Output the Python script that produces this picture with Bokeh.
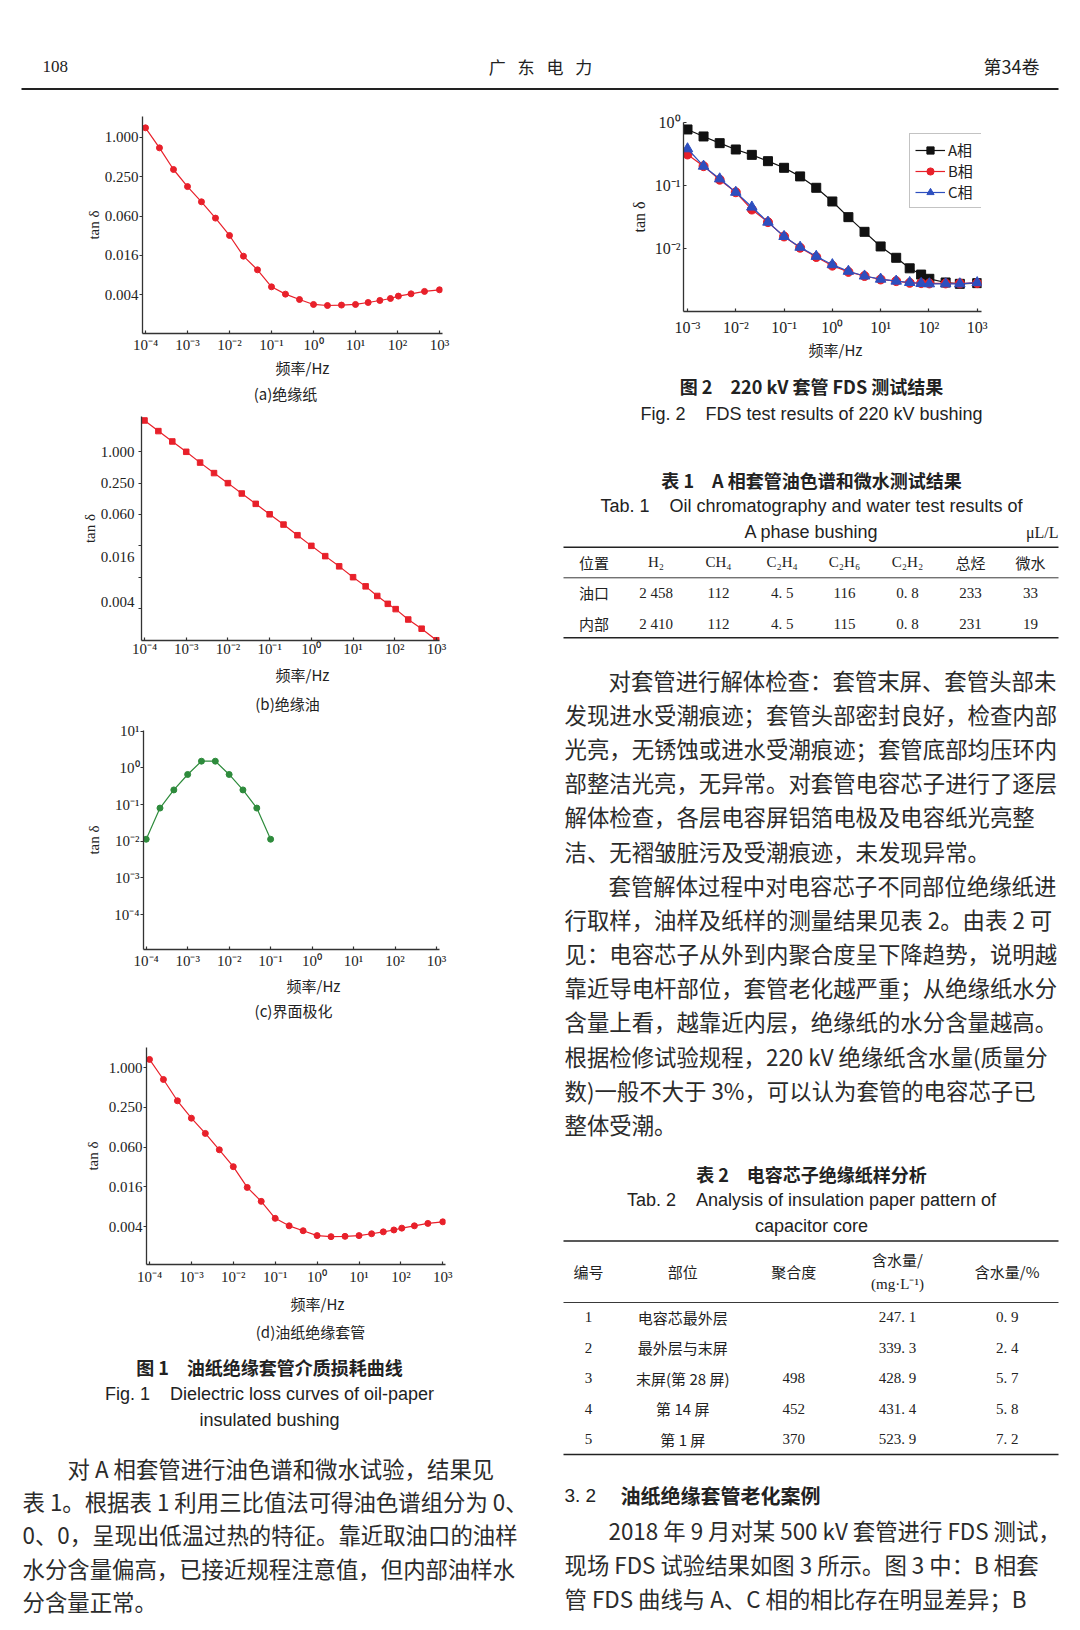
import math
from bokeh.plotting import figure
from bokeh.models import (Range1d, FixedTicker, CustomJSTickFormatter, ColumnDataSource,
                          Legend, LegendItem)
from bokeh.layouts import column, row
from bokeh.embed import file_html
from bokeh.resources import INLINE
from bokeh.core.properties import value

# ---------------------------------------------------------------- data
freq = [1e-4, 2.15e-4, 4.64e-4, 1e-3, 2.15e-3, 4.64e-3, 0.01, 0.0215, 0.0464, 0.1, 0.215, 0.464,
        1.0, 2.15, 4.64, 10.0, 20.0, 38.0, 68.0, 105.0, 210.0, 440.0, 1000.0]
tan_paper = [1.39, 0.687, 0.321, 0.176, 0.103, 0.058, 0.0315, 0.0152, 0.0094, 0.00517, 0.0040,
             0.00331, 0.00278, 0.00268, 0.00272, 0.00278, 0.00298, 0.0032, 0.00343, 0.00373,
             0.00404, 0.0044, 0.00466]
tan_oil = [4.0, 2.5, 1.58, 1.0, 0.62, 0.39, 0.25, 0.158, 0.1, 0.063, 0.04, 0.025, 0.0156, 0.0099,
           0.0063, 0.0039, 0.0026, 0.0017, 0.0012, 0.00095, 0.0006, 0.0004, 0.00024]
freq_pol = [1e-4, 2.15e-4, 4.64e-4, 1e-3, 2.15e-3, 4.64e-3, 0.01, 0.0215, 0.0464, 0.1]
tan_pol = [0.0113, 0.08, 0.25, 0.66, 1.52, 1.52, 0.66, 0.25, 0.08, 0.0113]
tan_bushing = [1.34, 0.665, 0.316, 0.172, 0.101, 0.057, 0.0316, 0.0153, 0.0094, 0.0052, 0.0040,
               0.00337, 0.00284, 0.00274, 0.00277, 0.00284, 0.00303, 0.00324, 0.00346, 0.00369,
               0.0040, 0.00435, 0.0046]

freq_fig2 = [1e-3, 2.15e-3, 4.64e-3, 0.01, 0.0215, 0.0464, 0.1, 0.215, 0.464, 1.0, 2.15, 4.64,
             10.0, 21.0, 40.0, 69.0, 102.0, 222.0, 437.0, 1000.0]
tan_A = [0.784, 0.607, 0.475, 0.377, 0.31, 0.246, 0.193, 0.141, 0.093, 0.0564, 0.0318, 0.0186,
         0.0109, 0.0072, 0.0049, 0.0039, 0.00334, 0.00292, 0.00278, 0.00285]
tan_B = [0.314, 0.205, 0.125, 0.079, 0.042, 0.0265, 0.0157, 0.0104, 0.0074, 0.0054, 0.0043,
         0.0037, 0.00326, 0.00307, 0.00288, 0.00285, 0.00282, 0.00282, 0.00282, 0.00285]
tan_C = [0.387, 0.205, 0.129, 0.079, 0.046, 0.0265, 0.0157, 0.0106, 0.0076, 0.0056, 0.0044,
         0.0037, 0.0033, 0.00307, 0.00292, 0.00282, 0.00278, 0.00278, 0.00278, 0.0029]
phase_names = ["A相", "B相", "C相"]

x_ticks_fig1 = [1e-4, 1e-3, 1e-2, 1e-1, 1.0, 10.0, 100.0, 1000.0]
x_labels_fig1 = ["10⁻⁴", "10⁻³", "10⁻²", "10⁻¹", "10⁰", "10¹", "10²", "10³"]
y_ticks_quarter = [1.0, 0.25, 0.0625, 0.015625, 0.00390625]
y_labels_quarter = ["1.000", "0.250", "0.060", "0.016", "0.004"]
# chart (b): tick marks and printed labels do not coincide in the original
y_marks_oil = [1.0, 0.25, 0.0625, 0.015625, 0.00390625, 0.0009765625]
y_label_pos_oil = [1.0, 0.25, 0.0625, 0.0094, 0.00128]
y_labels_oil = ["1.000", "0.250", "0.060", "0.016", "0.004"]
y_ticks_pol = [10.0, 1.0, 0.1, 0.01, 0.001, 0.0001]
y_labels_pol = ["10¹", "10⁰", "10⁻¹", "10⁻²", "10⁻³", "10⁻⁴"]
x_ticks_fig2 = [1e-3, 1e-2, 1e-1, 1.0, 10.0, 100.0, 1000.0]
x_labels_fig2 = ["10⁻³", "10⁻²", "10⁻¹", "10⁰", "10¹", "10²", "10³"]
y_ticks_fig2 = [1.0, 0.1, 0.01, 0.001]
y_labels_fig2 = ["10⁰", "10⁻¹", "10⁻²", "10⁻³"]

NB = "\u00a0"
IS = "\u3000"
header_texts = ["108", "广\u2002\u2009东\u2002\u2009电\u2002\u2009力", "第34卷"]
x_axis_title = "频率/Hz"
y_axis_title = "tan δ"
sub_captions = ["(a)绝缘纸", "(b)绝缘油", "(c)界面极化", "(d)油纸绝缘套管"]
fig1_caption = ["图 1" + IS + "油纸绝缘套管介质损耗曲线",
                "Fig. 1" + NB * 4 + "Dielectric loss curves of oil-paper",
                "insulated bushing"]
fig2_caption = ["图 2" + IS + "220 kV 套管 FDS 测试结果",
                "Fig. 2" + NB * 4 + "FDS test results of 220 kV bushing"]
tab1_caption = ["表 1" + IS + "A 相套管油色谱和微水测试结果",
                "Tab. 1" + NB * 4 + "Oil chromatography and water test results of",
                "A phase bushing"]
tab1_unit = "μL/L"
tab1_header = ["位置", "H₂", "CH₄", "C₂H₄", "C₂H₆", "C₂H₂", "总烃", "微水"]
tab1_rows = [["油口", "2 458", "112", "4. 5", "116", "0. 8", "233", "33"],
             ["内部", "2 410", "112", "4. 5", "115", "0. 8", "231", "19"]]
tab2_caption = ["表 2" + IS + "电容芯子绝缘纸样分析",
                "Tab. 2" + NB * 4 + "Analysis of insulation paper pattern of",
                "capacitor core"]
tab2_header = ["编号", "部位", "聚合度", "含水量/", "含水量/%"]
tab2_header_2 = "(mg·L⁻¹)"
tab2_rows = [["1", "电容芯最外层", "", "247. 1", "0. 9"],
             ["2", "最外层与末屏", "", "339. 3", "2. 4"],
             ["3", "末屏(第 28 屏)", "498", "428. 9", "5. 7"],
             ["4", "第 14 屏", "452", "431. 4", "5. 8"],
             ["5", "第 1 屏", "370", "523. 9", "7. 2"]]
para_left = ["对 A 相套管进行油色谱和微水试验，结果见",
             "表 1。根据表 1 利用三比值法可得油色谱组分为 0、",
             "0、0，呈现出低温过热的特征。靠近取油口的油样",
             "水分含量偏高，已接近规程注意值，但内部油样水",
             "分含量正常。"]
para_r1 = ["对套管进行解体检查：套管末屏、套管头部未",
           "发现进水受潮痕迹；套管头部密封良好，检查内部",
           "光亮，无锈蚀或进水受潮痕迹；套管底部均压环内",
           "部整洁光亮，无异常。对套管电容芯子进行了逐层",
           "解体检查，各层电容屏铝箔电极及电容纸光亮整",
           "洁、无褶皱脏污及受潮痕迹，未发现异常。"]
para_r2 = ["套管解体过程中对电容芯子不同部位绝缘纸进",
           "行取样，油样及纸样的测量结果见表 2。由表 2 可",
           "见：电容芯子从外到内聚合度呈下降趋势，说明越",
           "靠近导电杆部位，套管老化越严重；从绝缘纸水分",
           "含量上看，越靠近内层，绝缘纸的水分含量越高。",
           "根据检修试验规程，220 kV 绝缘纸含水量(质量分",
           "数)一般不大于 3%，可以认为套管的电容芯子已",
           "整体受潮。"]
section_no = "3. 2"
section_title = "油纸绝缘套管老化案例"
para_r3 = ["2018 年 9 月对某 500 kV 套管进行 FDS 测试，",
           "现场 FDS 试验结果如图 3 所示。图 3 中：B 相套",
           "管 FDS 曲线与 A、C 相的相比存在明显差异；B"]

# ---------------------------------------------------------------- style
CJK = "Noto Sans CJK SC"
SERIF = "Liberation Serif"
SANS = "Liberation Sans"
INK = "#222222"
BODY_INK = "#2b2b2b"
AXIS = "#333333"
RED = "#e8202a"
GREEN = "#2e8b3c"
BLACK = "#111111"
BLUE = "#2d4fbf"
BODY = "22.4px"

TICK_JS = """
const i = tv.findIndex(v => Math.abs(Math.log10(v) - Math.log10(tick)) < 1e-6);
return i < 0 ? "" : tl[i];
"""


def has_cjk(s):
    return any(ord(c) > 0x2E80 for c in s)


def log_fig(col, top, bottom, frame_x, frame_y, xcal, ycal):
    cx0, cx1 = col
    fl, fr = frame_x
    ft, fb = frame_y
    (xp0, xv0), (xp1, xv1) = xcal
    (yp0, yv0), (yp1, yv1) = ycal
    sx = math.log10(xv1 / xv0) / (xp1 - xp0)
    sy = math.log10(yv1 / yv0) / (yp1 - yp0)
    p = figure(width=cx1 - cx0, height=bottom - top, x_axis_type="log", y_axis_type="log",
               x_range=Range1d(xv0 * 10 ** ((fl - xp0) * sx), xv0 * 10 ** ((fr - xp0) * sx)),
               y_range=Range1d(yv0 * 10 ** ((fb - yp0) * sy), yv0 * 10 ** ((ft - yp0) * sy)),
               min_border_left=fl - cx0, min_border_right=cx1 - fr,
               min_border_top=ft - top, min_border_bottom=bottom - fb,
               toolbar_location=None, output_backend="svg", title=None, frame_align=False)
    p.grid.visible = False
    p.outline_line_color = None
    p.background_fill_color = "white"
    p.border_fill_color = "white"
    return p


def style_axes(p, xt, xl, yt, yl, size, x_standoff, y_title_standoff,
               x_in=3, y_in=0, y_out=3, y_standoff=1, y_minor=None):
    for ax, ticks, labels in ((p.xaxis[0], xt, xl), (p.yaxis[0], yt, yl)):
        ax.ticker = FixedTicker(ticks=ticks, minor_ticks=[])
        ax.formatter = CustomJSTickFormatter(args=dict(tv=ticks, tl=labels), code=TICK_JS)
        ax.axis_line_color = AXIS
        ax.axis_line_width = 1.3
        ax.major_tick_line_color = AXIS
        ax.major_tick_line_width = 1.2
        ax.minor_tick_line_color = None
        ax.major_label_text_font = SERIF
        ax.major_label_text_font_size = size
        ax.major_label_text_color = INK
    p.xaxis.major_tick_in = x_in
    p.xaxis.major_tick_out = 0
    p.xaxis.major_label_standoff = x_standoff
    p.yaxis.major_tick_in = y_in
    p.yaxis.major_tick_out = y_out
    p.yaxis.major_label_standoff = y_standoff
    if y_minor is not None:
        # tick marks drawn at their own positions, labels at the printed positions
        p.yaxis[0].ticker = FixedTicker(ticks=yt, minor_ticks=y_minor)
        p.yaxis.major_tick_in = 0
        p.yaxis.major_tick_out = 0
        p.yaxis.minor_tick_in = 0
        p.yaxis.minor_tick_out = 3
        p.yaxis.minor_tick_line_color = AXIS
        p.yaxis.minor_tick_line_width = 1.2
        p.yaxis.major_label_standoff = y_standoff + 3
    p.yaxis.axis_label = y_axis_title
    p.yaxis.axis_label_text_font = SERIF
    p.yaxis.axis_label_text_font_size = size
    p.yaxis.axis_label_text_font_style = "normal"
    p.yaxis.axis_label_text_color = INK
    p.yaxis.axis_label_standoff = y_title_standoff


def text_panel(x0, x1, y0, y1):
    p = figure(width=x1 - x0, height=y1 - y0, x_range=Range1d(x0, x1), y_range=Range1d(y1, y0),
               x_axis_location=None, y_axis_location=None, toolbar_location=None,
               output_backend="svg", min_border=0, title=None, frame_align=False)
    p.grid.visible = False
    p.outline_line_color = None
    p.background_fill_color = "white"
    p.border_fill_color = "white"
    return p


def put(p, xs, ys, texts, font, size, style="normal", align="left", color=INK):
    src = ColumnDataSource(dict(x=list(xs), y=list(ys), t=list(texts)))
    p.text(x="x", y="y", text="t", source=src, text_font=value(font), text_font_size=size,
           text_font_style=style, text_align=align, text_baseline="middle", text_color=color)


def para(p, lines, x_indent, x_left, y0, pitch, size=BODY):
    xs = [x_indent if i == 0 else x_left for i in range(len(lines))]
    ys = [y0 + i * pitch for i in range(len(lines))]
    put(p, xs, ys, lines, CJK, size, color=BODY_INK)


def rules(p, x0, x1, ys, widths):
    for y, w in zip(ys, widths):
        src = ColumnDataSource(dict(x0=[x0], x1=[x1], y=[y]))
        p.segment(x0="x0", y0="y", x1="x1", y1="y", source=src, line_color=INK, line_width=w)


def table_cells(p, xs, y, cells, size="15px"):
    cjk = [(x, c) for x, c in zip(xs, cells) if c and has_cjk(c)]
    lat = [(x, c) for x, c in zip(xs, cells) if c and not has_cjk(c)]
    if cjk:
        put(p, [a for a, _ in cjk], [y] * len(cjk), [b for _, b in cjk], CJK, size, align="center")
    if lat:
        put(p, [a for a, _ in lat], [y] * len(lat), [b for _, b in lat], SERIF, size, align="center")


def series(p, x, y, color, marker, size, lw=1.2):
    src = ColumnDataSource(dict(x=x, y=y))
    ln = p.line("x", "y", source=src, line_color=color, line_width=lw)
    sc = p.scatter("x", "y", source=src, marker=marker, size=size, fill_color=color,
                   line_color=color)
    return ln, sc


LEFT = (0, 548)
RIGHT = (548, 1080)
PAGE_H = 1630

# ---------------------------------------------------------------- header
header = text_panel(0, 1080, 0, 95)
put(header, [42], [65.5], [header_texts[0]], SERIF, "17px")
put(header, [540], [65.5], [header_texts[1]], CJK, "17px", align="center")
put(header, [1039], [65.5], [header_texts[2]], CJK, "18px", align="right")
rules(header, 21, 1058, [88.5], [2.2])

# ---------------------------------------------------------------- Fig 1 (a)
pa = log_fig(LEFT, 95, 357, (142, 442), (116, 333), ((145, 1e-4), (439, 1e3)),
             ((136.7, 1.0), (294.3, 0.00390625)))
style_axes(pa, x_ticks_fig1, x_labels_fig1, y_ticks_quarter, y_labels_quarter, "15px", 3, 0)
series(pa, freq, tan_paper, RED, "circle", 6)
ta = text_panel(0, 548, 357, 410)
put(ta, [302], [366.5], [x_axis_title], CJK, "15px", align="center")
put(ta, [285], [393], [sub_captions[0]], CJK, "15px", align="center")

# ---------------------------------------------------------------- Fig 1 (b)
pb = log_fig(LEFT, 410, 662, (141, 439), (416, 640), ((144, 1e-4), (436, 1e3)),
             ((451.3, 1.0), (608, 0.0009765625)))
style_axes(pb, x_ticks_fig1, x_labels_fig1, y_label_pos_oil, y_labels_oil, "15px", 0, 0,
           y_minor=y_marks_oil)
series(pb, freq, tan_oil, RED, "square", 5.5)
tb = text_panel(0, 548, 662, 715)
put(tb, [302], [674], [x_axis_title], CJK, "15px", align="center")
put(tb, [287], [703], [sub_captions[1]], CJK, "15px", align="center")

# ---------------------------------------------------------------- Fig 1 (c)
pc = log_fig(LEFT, 715, 974, (143, 439), (730, 949), ((145.7, 1e-4), (436, 1e3)),
             ((730.7, 10.0), (914, 1e-4)))
style_axes(pc, x_ticks_fig1, x_labels_fig1, y_ticks_pol, y_labels_pol, "15px", 3, 9)
series(pc, freq_pol, tan_pol, GREEN, "circle", 6)
tc = text_panel(0, 548, 974, 1025)
put(tc, [313], [985], [x_axis_title], CJK, "15px", align="center")
put(tc, [293], [1010], [sub_captions[2]], CJK, "15px", align="center")

# ---------------------------------------------------------------- Fig 1 (d)
pd_ = log_fig(LEFT, 1025, 1288, (146, 445), (1047, 1264), ((149, 1e-4), (442.3, 1e3)),
              ((1067.3, 1.0), (1226, 0.00390625)))
style_axes(pd_, x_ticks_fig1, x_labels_fig1, y_ticks_quarter, y_labels_quarter, "15px", 4, 5)
series(pd_, freq, tan_bushing, RED, "circle", 6)
td = text_panel(0, 548, 1288, PAGE_H)
put(td, [317], [1302.5], [x_axis_title], CJK, "15px", align="center")
put(td, [310], [1331], [sub_captions[3]], CJK, "15px", align="center")
put(td, [269], [1366.5], [fig1_caption[0]], CJK, "18px", style="bold", align="center")
put(td, [269, 269], [1393, 1419.5], fig1_caption[1:], SANS, "18px", align="center")
para(td, para_left, 67, 22, 1467, 33.4)

# ---------------------------------------------------------------- Fig 2
p2 = log_fig(RIGHT, 95, 339, (683, 981), (122, 311), ((687, 1e-3), (976.7, 1e3)),
             ((122.3, 1.0), (311.3, 1e-3)))
style_axes(p2, x_ticks_fig2, x_labels_fig2, y_ticks_fig2, y_labels_fig2, "16px", 7, 4,
           x_in=3, y_in=3, y_out=0, y_standoff=3)
ra = series(p2, freq_fig2, tan_A, BLACK, "square", 9)
rb = series(p2, freq_fig2, tan_B, RED, "circle", 9)
rc = series(p2, freq_fig2, tan_C, BLUE, "triangle", 10.5)
legend = Legend(items=[LegendItem(label=n, renderers=list(r)) for n, r in zip(phase_names, (ra, rb, rc))],
                location=(226, 103), padding=5, spacing=0, margin=0,
                glyph_width=30, glyph_height=18, label_height=18, label_width=34,
                label_standoff=3, label_text_font=CJK, label_text_font_size="15px",
                label_text_color=INK, border_line_color="#888888", border_line_width=1,
                background_fill_color="white", background_fill_alpha=1.0)
p2.add_layout(legend)

# ---------------------------------------------------------------- right text column
tr = text_panel(548, 1080, 339, PAGE_H)
put(tr, [835], [349], [x_axis_title], CJK, "15px", align="center")
put(tr, [811], [385], [fig2_caption[0]], CJK, "18px", style="bold", align="center")
put(tr, [811], [413.5], [fig2_caption[1]], SANS, "18px", align="center")
# table 1
put(tr, [811], [479], [tab1_caption[0]], CJK, "18px", style="bold", align="center")
put(tr, [811, 811], [505, 531.5], tab1_caption[1:], SANS, "18px", align="center")
put(tr, [1058], [531.5], [tab1_unit], SERIF, "16px", align="right")
rules(tr, 563, 1058, [546.8, 577.3, 637.3], [1.6, 0.9, 1.6])
tab1_x = [593.5, 655.5, 718, 781.7, 844, 907, 970, 1030]
table_cells(tr, tab1_x, 561.7, tab1_header)
for i, r in enumerate(tab1_rows):
    table_cells(tr, tab1_x, 592.3 + 30.7 * i, r)
# paragraphs
para(tr, para_r1, 608, 564, 679, 34.2)
para(tr, para_r2, 608, 564, 884, 34.2)
# table 2
put(tr, [811], [1173], [tab2_caption[0]], CJK, "18px", style="bold", align="center")
put(tr, [811, 811], [1199, 1225], tab2_caption[1:], SANS, "18px", align="center")
rules(tr, 563, 1058, [1240.5, 1302, 1454], [1.6, 0.9, 1.6])
tab2_x = [588, 682.3, 793.3, 897, 1006.7]
table_cells(tr, [tab2_x[0], tab2_x[1], tab2_x[2], tab2_x[4]], 1271,
            [tab2_header[0], tab2_header[1], tab2_header[2], tab2_header[4]])
table_cells(tr, [tab2_x[3]], 1259.3, [tab2_header[3]])
table_cells(tr, [tab2_x[3]], 1283.3, [tab2_header_2])
for i, r in enumerate(tab2_rows):
    table_cells(tr, tab2_x, 1316.7 + 30.5 * i, r)
# section 3.2
put(tr, [564], [1495], [section_no], SANS, "19px")
put(tr, [620], [1495], [section_title], CJK, "20px", style="bold")
para(tr, para_r3, 608, 564, 1529.5, 33.8)

# ---------------------------------------------------------------- layout
left_col = column(pa, ta, pb, tb, pc, tc, pd_, td, spacing=0)
right_col = column(p2, tr, spacing=0)
page = column(header, row(left_col, right_col, spacing=0), spacing=0)

open("out.html", "w").write(file_html(page, INLINE))
